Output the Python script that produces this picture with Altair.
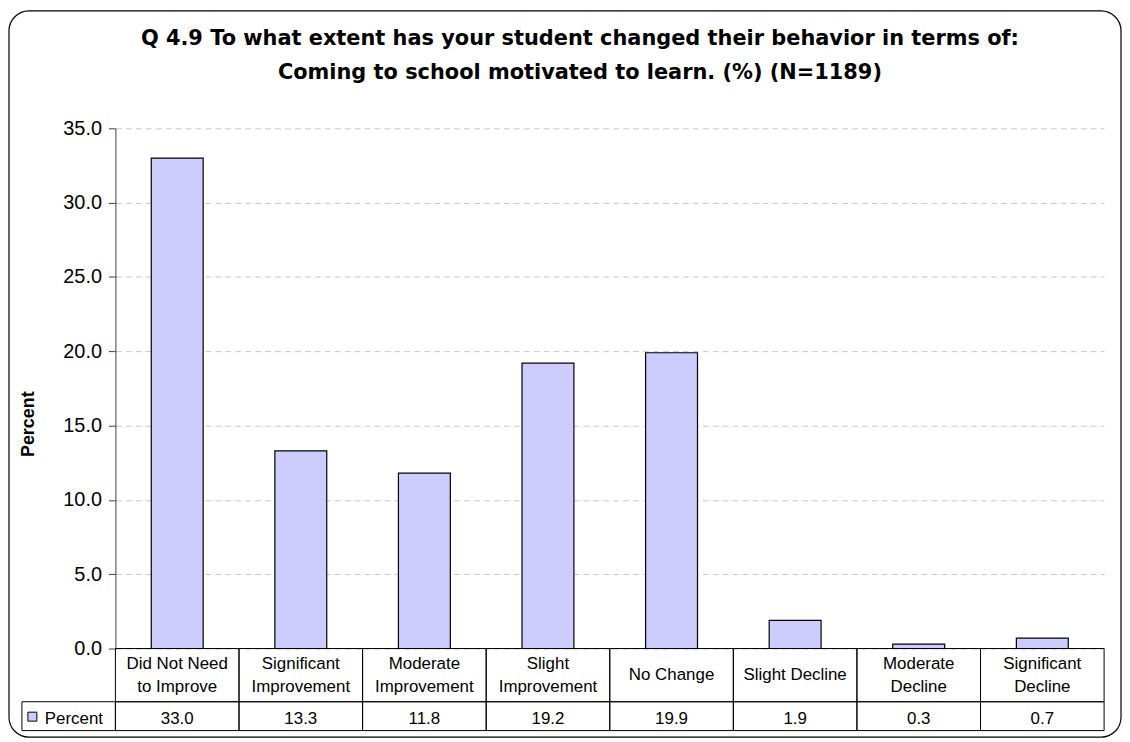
import altair as alt
import pandas as pd

categories = ["Did Not Need\nto Improve", "Significant\nImprovement", "Moderate\nImprovement",
              "Slight\nImprovement", "No Change", "Slight Decline", "Moderate\nDecline",
              "Significant\nDecline"]
percent = [33.0, 13.3, 11.8, 19.2, 19.9, 1.9, 0.3, 0.7]
y_ticks = [0, 5, 10, 15, 20, 25, 30, 35]
series_name = ["Percent"]
title_lines = ["Q 4.9 To what extent has your student changed their behavior in terms of:",
               "Coming to school motivated to learn. (%) (N=1189)"]

df = pd.DataFrame({"category": categories, "percent": percent})
legend_df = pd.DataFrame({"series": series_name})
title_df = pd.DataFrame({"title": ["\n".join(title_lines)]})

W, H = 994, 523
ROW1 = 53.5
ROW2 = 29
FONT = "Liberation Sans"
LH = 23

xscale = alt.Scale(domain=categories, paddingInner=0, paddingOuter=0)
x = alt.X("category:N", scale=xscale, sort=categories, axis=None)

border = alt.Chart(legend_df).mark_rect(
    cornerRadius=20, fill="white", fillOpacity=0, stroke="black", strokeWidth=1.2
).encode(x=alt.value(-107), x2=alt.value(1011), y=alt.value(-118), y2=alt.value(612))

bars = alt.Chart(df).mark_bar(
    width=alt.RelativeBandSize(0.42), fill="#CCCCFF", stroke="black", strokeWidth=1.2
).encode(
    x=x,
    y=alt.Y("percent:Q", scale=alt.Scale(domain=[0, 35], nice=False, zero=True),
            axis=alt.Axis(values=y_ticks, format=".1f", title="Percent",
                          titleFontSize=18, titleFontWeight="bold", titleFont=FONT,
                          titleColor="black", titleAngle=270, titleX=-87, titleY=297,
                          titleAlign="center", titleBaseline="middle",
                          labelFontSize=20, labelFont=FONT, labelColor="black",
                          labelPadding=7, tickSize=7, tickColor="#404040",
                          domainColor="#404040", grid=True, gridColor="#c8c8c8",
                          gridDash=[6, 4], gridWidth=1)),
)

cells1 = alt.Chart(df).mark_rect(
    fill="white", fillOpacity=0, stroke="black", strokeWidth=1
).encode(x=x, y=alt.value(H), y2=alt.value(H + ROW1))

cells2 = alt.Chart(df).mark_rect(
    fill="white", fillOpacity=0, stroke="black", strokeWidth=1
).encode(x=x, y=alt.value(H + ROW1), y2=alt.value(H + ROW1 + ROW2))

legend_cell = alt.Chart(legend_df).mark_rect(
    fill="white", fillOpacity=0, stroke="black", strokeWidth=1
).encode(x=alt.value(-94), x2=alt.value(0), y=alt.value(H + ROW1), y2=alt.value(H + ROW1 + ROW2))

cat_text_multi = alt.Chart(df).transform_filter(
    "indexof(datum.category, '\\n') >= 0"
).mark_text(
    lineBreak="\n", fontSize=17, font=FONT, lineHeight=LH, baseline="middle",
    align="center", color="black"
).encode(x=x, y=alt.value(H + 27 - LH / 2), text="category:N")

cat_text_single = alt.Chart(df).transform_filter(
    "indexof(datum.category, '\\n') < 0"
).mark_text(
    fontSize=17, font=FONT, baseline="middle", align="center", color="black"
).encode(x=x, y=alt.value(H + 27), text="category:N")

val_text = alt.Chart(df).mark_text(
    fontSize=17, font=FONT, baseline="middle", align="center", color="black"
).encode(x=x, y=alt.value(H + 70.5), text=alt.Text("percent:Q", format=".1f"))

legend_sq = alt.Chart(legend_df).mark_square(
    size=81, fill="#CCCCFF", stroke="black", strokeWidth=1, opacity=1
).encode(x=alt.value(-83.5), y=alt.value(H + 68.5))

legend_text = alt.Chart(legend_df).mark_text(
    fontSize=17, font=FONT, baseline="middle", align="left", color="black"
).encode(x=alt.value(-71), y=alt.value(H + 70.5), text="series:N")

title = alt.Chart(title_df).mark_text(
    lineBreak="\n", fontSize=21, fontWeight="bold", font="DejaVu Sans", lineHeight=34,
    baseline="middle", align="center", color="black"
).encode(x=alt.value(467), y=alt.value(-90), text="title:N")

chart = alt.layer(
    border, bars, cells1, cells2, legend_cell, cat_text_multi, cat_text_single,
    val_text, legend_sq, legend_text, title
).properties(
    width=W, height=H,
    autosize=alt.AutoSizeParams(type="none"),
    padding={"left": 108, "top": 119, "right": 18, "bottom": 91},
).configure_view(strokeWidth=0)

chart.save("out.html", embed_options={"renderer": "svg", "actions": False})
